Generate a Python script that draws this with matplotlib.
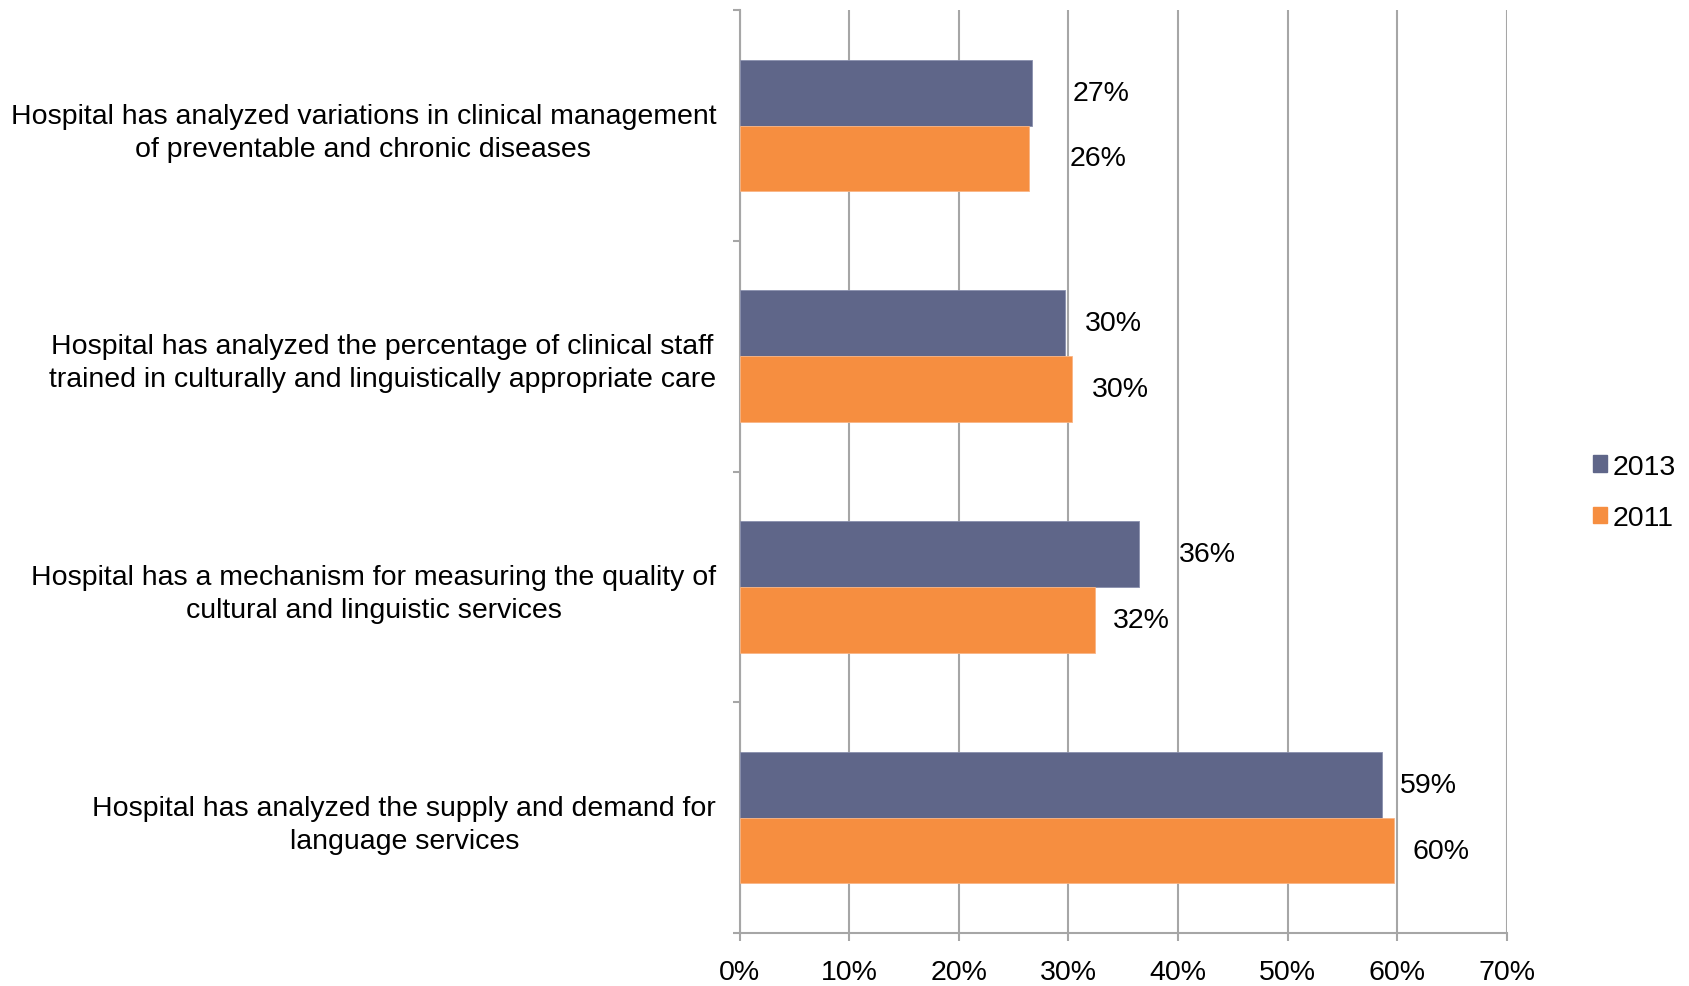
import numpy as np
from matplotlib import pyplot as plt
from matplotlib.patches import Patch

categories = [
    "Hospital has analyzed variations in clinical management\nof preventable and chronic diseases",
    "Hospital has analyzed the percentage of clinical staff\ntrained in culturally and linguistically appropriate care",
    "Hospital has a mechanism for measuring the quality of\ncultural and linguistic services",
    "Hospital has analyzed the supply and demand for\nlanguage services",
]
values_2013 = [26.7, 29.7, 36.4, 58.6]
values_2011 = [26.4, 30.3, 32.4, 59.7]
series_names = ["2013", "2011"]

# gap between bar end and its label, in percent units
gap_2013 = [3.7, 1.8, 3.7, 1.7]
gap_2011 = [3.7, 1.8, 1.7, 1.7]

color_2013 = "#5F6689"
color_2011 = "#F68E40"
grid_color = "#A6A6A6"

plt.rcParams['font.family'] = ['Liberation Sans', 'DejaVu Sans']
plt.rcParams['font.size'] = 20.5

fig = plt.figure(figsize=(16.89, 9.87), dpi=100)
ax = fig.add_axes([0.438, 0.0537, 0.454, 0.935])

y = np.arange(len(categories))
h = 0.285
bars_2013 = ax.barh(y - h / 2, values_2013, height=h, color=color_2013,
                    edgecolor="#8A90AE", linewidth=0.6, zorder=3)
bars_2011 = ax.barh(y + h / 2, values_2011, height=h, color=color_2011,
                    edgecolor="#F9B585", linewidth=0.6, zorder=3)

for yy, v, g in zip(y - h / 2, values_2013, gap_2013):
    ax.text(v + g, yy, f"{round(v)}%", va="center", ha="left")
for yy, v, g in zip(y + h / 2, values_2011, gap_2011):
    ax.text(v + g, yy, f"{round(v)}%", va="center", ha="left")

ax.set_xlim(0, 70)
ax.set_ylim(len(categories) - 0.5, -0.5)
ax.set_xticks(np.arange(0, 71, 10))
ax.set_xticklabels([f"{t}%" for t in range(0, 71, 10)])
ax.xaxis.grid(True, color=grid_color, linewidth=1.5, zorder=0)

ax.set_yticks(y)
ax.set_yticklabels(categories, multialignment="center", linespacing=1.35)
ax.set_yticks(np.arange(-0.5, len(categories), 1), minor=True)
ax.tick_params(axis="y", which="major", length=0, pad=17)
ax.tick_params(axis="y", which="minor", length=5, width=1.5, color=grid_color, direction="out")
ax.tick_params(axis="x", length=6, width=1.5, color=grid_color, direction="out", pad=13)

for side in ["top", "right"]:
    ax.spines[side].set_visible(False)
for side in ["left", "bottom"]:
    ax.spines[side].set_color(grid_color)
    ax.spines[side].set_linewidth(1.5)

handles = [Patch(color=color_2013), Patch(color=color_2011)]
fig.legend(handles, series_names, loc="center left", bbox_to_anchor=(0.928, 0.5),
           frameon=False, handlelength=0.5, handleheight=0.5, handletextpad=0.2,
           labelspacing=0.9)

plt.savefig("out.png", dpi=100)
